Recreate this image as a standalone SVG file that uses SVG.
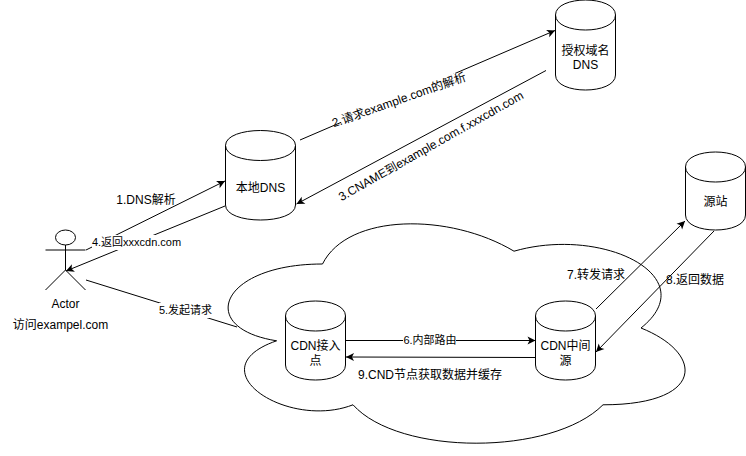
<svg xmlns="http://www.w3.org/2000/svg" width="746" height="456" viewBox="0 0 746 456">
<style>
text{font-family:"Liberation Sans","Noto Sans CJK SC",sans-serif;font-size:12px;fill:#000;text-anchor:middle;dominant-baseline:central}
text.e{font-size:11px}
.s{fill:#fff;stroke:#000;stroke-width:1}
.n{fill:none;stroke:#000;stroke-width:1}
.b{fill:#fff;stroke:none}
.c{fill:none;stroke:#000;stroke-width:1}
.a{marker-end:url(#arr)}
</style>
<defs>
<marker id="arr" markerUnits="userSpaceOnUse" markerWidth="10" markerHeight="10" refX="8" refY="4" orient="auto" overflow="visible"><path d="M0,0 L8,4 L0,8 L2,4 Z" fill="#000"/></marker>
</defs>
<rect width="746" height="456" fill="#fff"/>
<g id="cloud"><path class="s" d="M322.5,264 C220.5,264 195,328 276.6,340.8 C195,369 287,430.4 353,404.8 C399,456 552,456 603,404.8 C705,404.8 705,353.6 641,328 C705,276.8 603,225.6 514,251.2 C450,212.8 348,212.8 322.5,264 Z"/></g>
<g id="actor">
<ellipse class="n" cx="65.5" cy="237.5" rx="10" ry="7.5"/>
<path class="n" d="M65.5,245 V270 M45.5,250 H85.5 M65.5,270 L45.5,290 M65.5,270 L85.5,290"/>
<text x="65.5" y="304">Actor</text>
<text x="60.5" y="325">访问exampel.com</text>
</g>
<g id="local-dns">
<path class="s" d="M225.5,145.5 C225.5,125.5 295.5,125.5 295.5,145.5 V205 C295.5,225 225.5,225 225.5,205 Z"/>
<path class="n" d="M225.5,145.5 C225.5,165.5 295.5,165.5 295.5,145.5"/>
<text x="260.5" y="188">本地DNS</text>
</g>
<g id="auth-dns">
<path class="s" d="M555.5,15 C555.5,-5 615.5,-5 615.5,15 V75 C615.5,95 555.5,95 555.5,75 Z"/>
<path class="n" d="M555.5,15 C555.5,35 615.5,35 615.5,15"/>
<text x="585.5" y="51">授权域名</text>
<text x="585.5" y="65">DNS</text>
</g>
<g id="origin">
<path class="s" d="M685.5,167 C685.5,147 745.5,147 745.5,167 V215 C745.5,235 685.5,235 685.5,215 Z"/>
<path class="n" d="M685.5,167 C685.5,187 745.5,187 745.5,167"/>
<text x="715.5" y="202">源站</text>
</g>
<g id="cdn-edge">
<path class="s" d="M285.5,316 C285.5,296 345.5,296 345.5,316 V365 C345.5,385 285.5,385 285.5,365 Z"/>
<path class="n" d="M285.5,316 C285.5,336 345.5,336 345.5,316"/>
<text x="315.5" y="346">CDN接入</text>
<text x="315.5" y="361">点</text>
</g>
<g id="cdn-mid">
<path class="s" d="M535.5,316 C535.5,296 595.5,296 595.5,316 V365 C595.5,385 535.5,385 535.5,365 Z"/>
<path class="n" d="M535.5,316 C535.5,336 595.5,336 595.5,316"/>
<text x="565.5" y="346">CDN中间</text>
<text x="565.5" y="361">源</text>
</g>
<g id="connectors">
<path class="c a" d="M86,250 L225,181"/>
<path class="c a" d="M225,206 L66,271"/>
<path class="c" d="M86,280 L237,327"/>
<path class="c a" d="M300,140 L555,30.5"/>
<path class="c a" d="M546,70.5 L296.5,204"/>
<path class="c a" d="M346,340.5 L535.5,340.5"/>
<path class="c a" d="M535,357.5 L346,357"/>
<path class="c a" d="M596,309 L685,221"/>
<path class="c a" d="M714,231 L596,352"/>
<rect class="b" x="92" y="235" width="89" height="15"/>
<text class="e" x="136.5" y="242">4.返回xxxcdn.com</text>
<text x="146" y="200">1.DNS解析</text>
<rect class="b" x="159" y="303" width="53" height="15"/>
<text class="e" x="185.5" y="310">5.发起请求</text>
<rect class="b" x="403" y="333" width="53" height="15"/>
<text class="e" x="430" y="340">6.内部路由</text>
<text x="430" y="375">9.CND节点获取数据并缓存</text>
<text x="596" y="275">7.转发请求</text>
<text x="695" y="280">8.返回数据</text>
<g transform="translate(399,100) rotate(-19.5)"><rect class="b" x="-62" y="-7" width="124" height="14"/><text>2.请求example.com的解析</text></g>
<text transform="translate(431,146) rotate(-29.5)">3.CNAME到example.com.f.xxxcdn.com</text>
</g>
</svg>
